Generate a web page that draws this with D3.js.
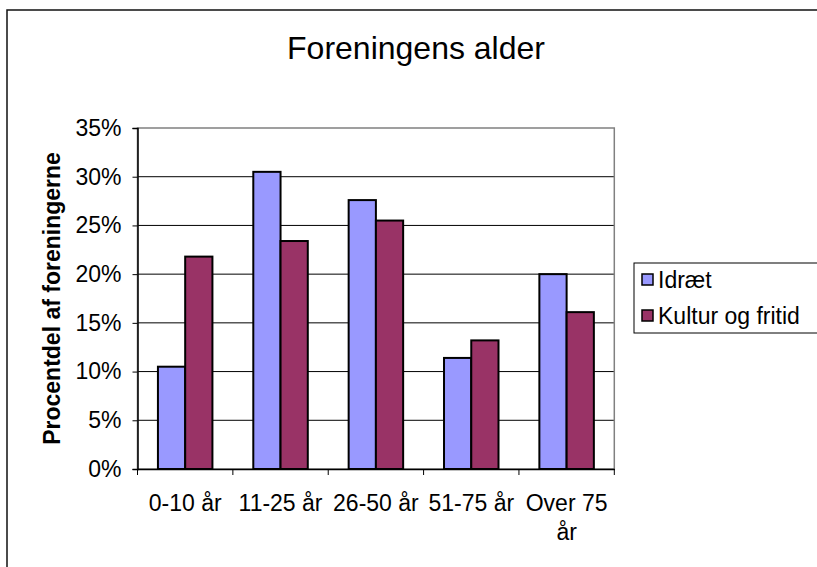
<!DOCTYPE html>
<html>
<head>
<meta charset="utf-8">
<script src="https://cdn.jsdelivr.net/npm/d3@7"></script>
<style>
  html, body { margin: 0; padding: 0; background: #fff; }
  svg { display: block; font-family: "Liberation Sans", Arial, Helvetica, sans-serif; }
</style>
</head>
<body>
<script>
const title = "Foreningens alder";
const yAxisTitle = "Procentdel af foreningerne";
const categories = ["0-10 år", "11-25 år", "26-50 år", "51-75 år", "Over 75 år"];
const seriesNames = ["Idræt", "Kultur og fritid"];
const idraet = [10.5, 30.5, 27.6, 11.4, 20.0];
const kultur = [21.8, 23.4, 25.5, 13.2, 16.1];
const seriesColors = ["#9999FF", "#993366"];
const yTicks = [0, 5, 10, 15, 20, 25, 30, 35];

const W = 817, H = 567;
const svg = d3.select("body").append("svg").attr("width", W).attr("height", H);

// outer chart border
svg.append("rect").attr("x", 7).attr("y", 10).attr("width", W + 10).attr("height", H + 10)
  .attr("fill", "#fff").attr("stroke", "#111").attr("stroke-width", 1.5);

const plot = { left: 137.5, right: 614.3, top: 128, bottom: 469 };

const x = d3.scaleBand().domain(categories).range([plot.left, plot.right]).paddingInner(0).paddingOuter(0);
const inner = d3.scaleBand().domain(seriesNames).range([0, x.bandwidth()]).paddingInner(0).paddingOuter(0.75 / 2.75 * 2.75 / 2.75);
const y = d3.scaleLinear().domain([0, 35]).range([plot.bottom, plot.top]);

// bar width: gap width 150% => band = 3.5 * barWidth
const barW = x.bandwidth() / 3.5;
const groupOffset = 0.75 * barW;

// Title
svg.append("text").attr("x", 416).attr("y", 59).attr("text-anchor", "middle")
  .attr("font-size", 32).attr("fill", "#000").text(title);

// Gridlines
svg.append("g").selectAll("line").data(yTicks.filter(d => d > 0 && d < 35)).join("line")
  .attr("x1", plot.left).attr("x2", plot.right)
  .attr("y1", d => y(d)).attr("y2", d => y(d))
  .attr("stroke", "#000").attr("stroke-width", 1);

// Plot area border
svg.append("rect").attr("x", plot.left).attr("y", plot.top)
  .attr("width", plot.right - plot.left).attr("height", plot.bottom - plot.top)
  .attr("fill", "none").attr("stroke", "#808080").attr("stroke-width", 1.5);

// Bars
const series = [idraet, kultur];
series.forEach((vals, si) => {
  svg.append("g").selectAll("rect").data(categories).join("rect")
    .attr("x", c => x(c) + groupOffset + si * barW)
    .attr("y", (c, i) => y(vals[i]))
    .attr("width", barW)
    .attr("height", (c, i) => y(0) - y(vals[i]))
    .attr("fill", seriesColors[si])
    .attr("stroke", "#000").attr("stroke-width", 2);
});

// Y axis
const yAxis = d3.axisLeft(y).tickValues(yTicks).tickFormat(d => d + "%").tickSize(5).tickPadding(11);
const gy = svg.append("g").attr("transform", `translate(${plot.left},0)`).call(yAxis);
gy.select(".domain").attr("stroke", "#000").attr("stroke-width", 1.5);
gy.selectAll(".tick line").attr("stroke", "#000").attr("stroke-width", 1);
gy.selectAll(".tick text").attr("font-size", 23).attr("fill", "#000")
  .attr("font-family", "'Liberation Sans', Arial, sans-serif");

// X axis
const xAxis = d3.axisBottom(x).tickSize(0).tickFormat("");
const gx = svg.append("g").attr("transform", `translate(0,${plot.bottom})`).call(xAxis);
gx.select(".domain").attr("stroke", "#000").attr("stroke-width", 1.5);
// boundary ticks
const bounds = categories.map(c => x(c)).concat([x(categories[categories.length - 1]) + x.bandwidth()]);
gx.append("g").selectAll("line").data(bounds).join("line")
  .attr("x1", d => d).attr("x2", d => d).attr("y1", 0).attr("y2", 6)
  .attr("stroke", "#000").attr("stroke-width", 1);

// X labels (wrapped like the original)
const xLabelLines = [["0-10 år"], ["11-25 år"], ["26-50 år"], ["51-75 år"], ["Over 75", "år"]];
svg.append("g").selectAll("text").data(categories).join("text")
  .attr("x", c => x(c) + x.bandwidth() / 2)
  .attr("y", 511)
  .attr("text-anchor", "middle").attr("font-size", 23).attr("fill", "#000")
  .each(function(c, i) {
    const t = d3.select(this);
    xLabelLines[i].forEach((ln, k) => {
      t.append("tspan").attr("x", x(c) + x.bandwidth() / 2).attr("dy", k === 0 ? 0 : 29).text(ln);
    });
  });

// Y axis title
svg.append("text").attr("transform", `translate(60,${(plot.top + plot.bottom) / 2}) rotate(-90)`)
  .attr("text-anchor", "middle").attr("font-size", 23).attr("font-weight", "bold").attr("fill", "#000")
  .text(yAxisTitle);

// Legend
const lg = svg.append("g");
lg.append("rect").attr("x", 634).attr("y", 263).attr("width", 200).attr("height", 70)
  .attr("fill", "#fff").attr("stroke", "#000").attr("stroke-width", 1);
seriesNames.forEach((name, i) => {
  const cy = 280 + i * 36;
  lg.append("rect").attr("x", 642).attr("y", cy - 6).attr("width", 11).attr("height", 11)
    .attr("fill", seriesColors[i]).attr("stroke", "#000").attr("stroke-width", 1.5);
  lg.append("text").attr("x", 658).attr("y", cy + 8).attr("font-size", 23).attr("fill", "#000").text(name);
});
</script>
</body>
</html>
